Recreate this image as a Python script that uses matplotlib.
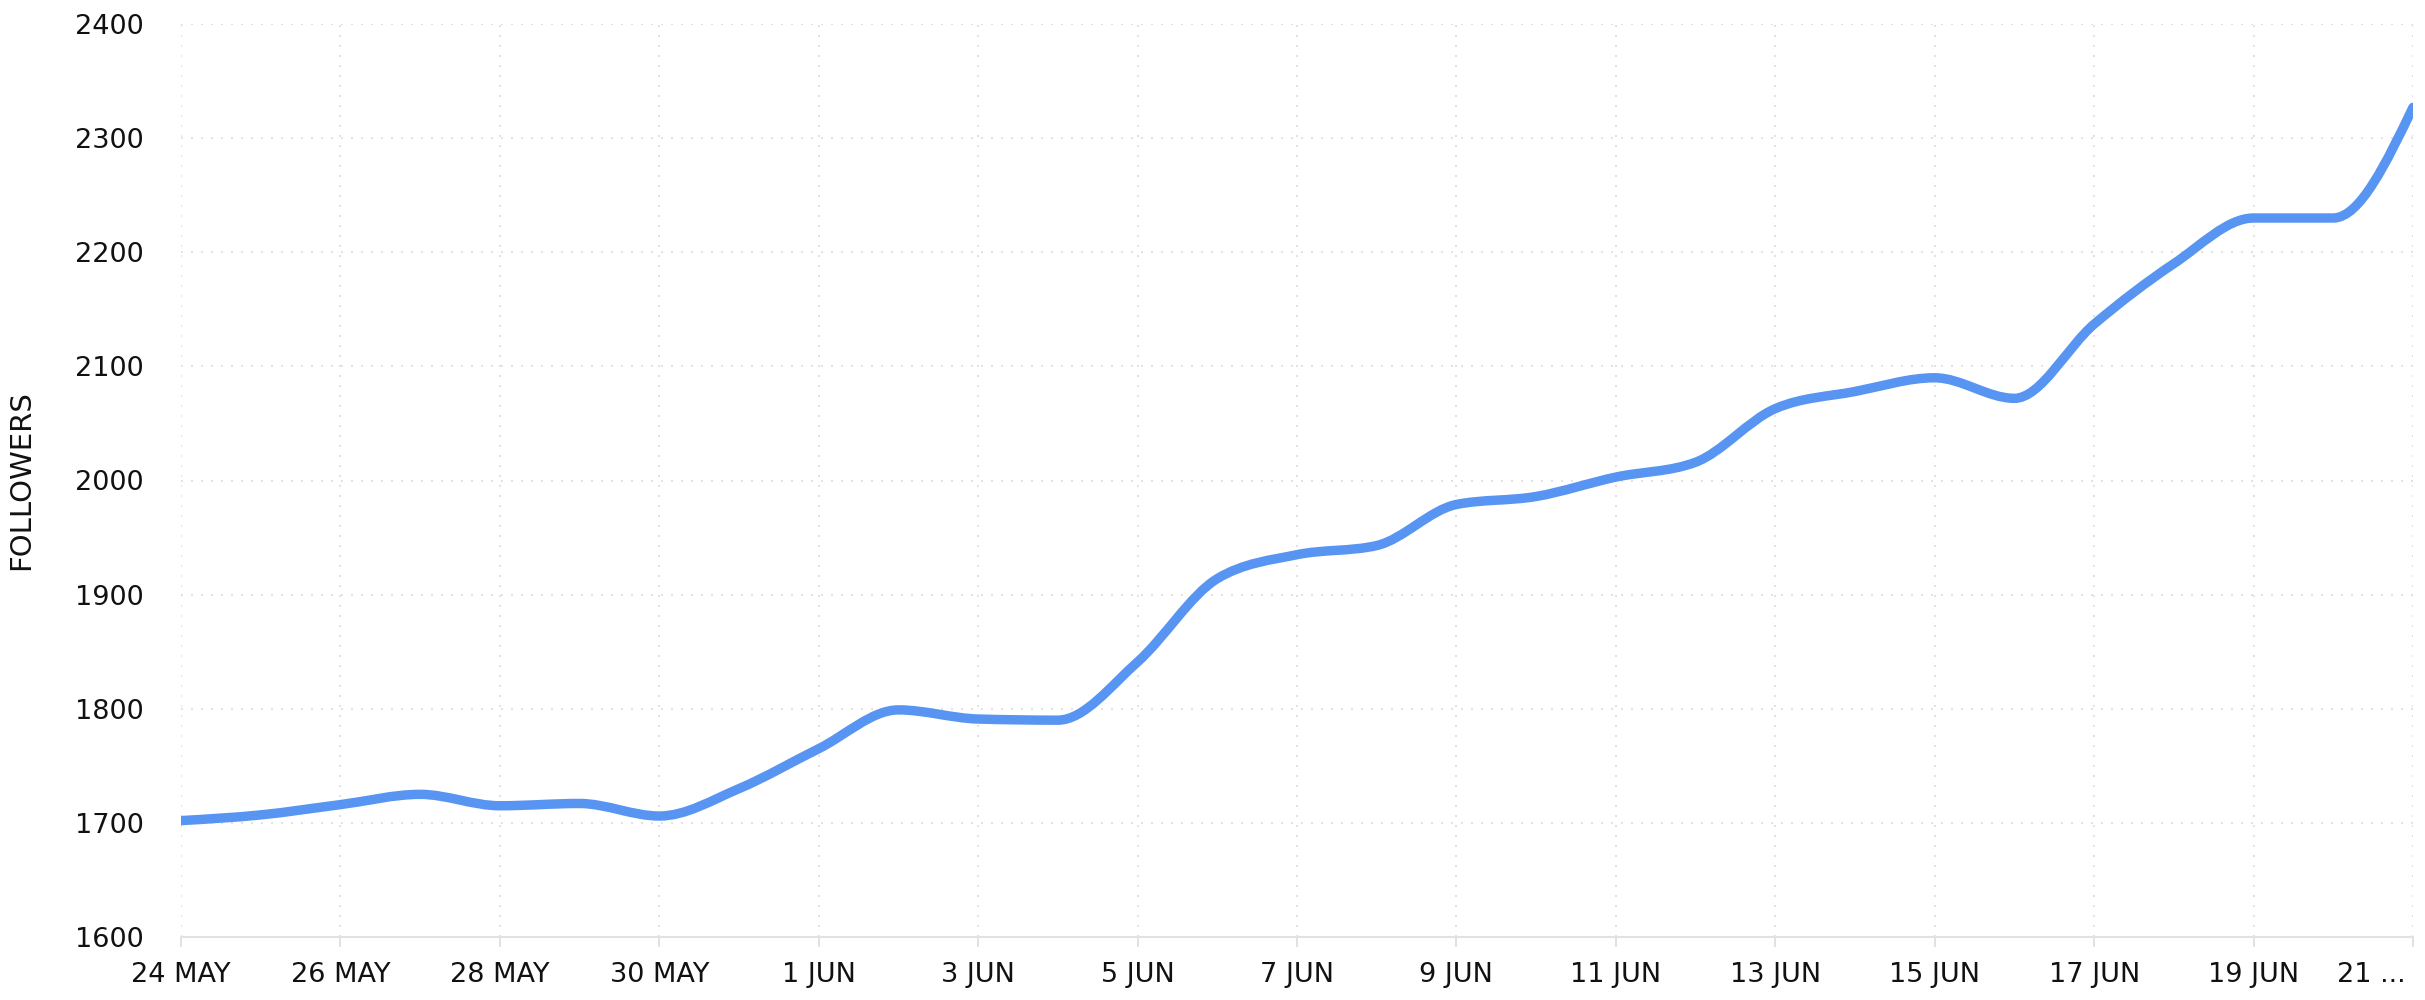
import numpy as np
import matplotlib
matplotlib.use('Agg')
import matplotlib.pyplot as plt
import matplotlib.dates as mdates
from matplotlib.path import Path
from matplotlib.patches import PathPatch
from matplotlib.transforms import ScaledTranslation

# daily follower counts, 24 May -> 21 Jun
dates = np.arange(np.datetime64('2023-05-24'), np.datetime64('2023-06-22'))
followers = [1702, 1707, 1716, 1725, 1715, 1717, 1706, 1730, 1765, 1799,
             1791, 1790, 1841, 1914, 1935, 1943, 1979, 1986, 2003, 2016,
             2063, 2078, 2090, 2072, 2137, 2190, 2230, 2230, 2327]
y_ticks = [1600, 1700, 1800, 1900, 2000, 2100, 2200, 2300, 2400]

line_color = '#5894f1'
grid_color = '#e2e2e2'
text_color = '#111111'


def monotone_path(x, y):
    # monotone cubic (d3 curveMonotoneX style) written as bezier segments
    x = np.asarray(x, float)
    y = np.asarray(y, float)
    h = np.diff(x)
    s = np.diff(y) / h
    n = len(x)
    t = np.zeros(n)
    for i in range(1, n - 1):
        p = (s[i - 1] * h[i] + s[i] * h[i - 1]) / (h[i - 1] + h[i])
        t[i] = (np.sign(s[i - 1]) + np.sign(s[i])) * min(abs(s[i - 1]), abs(s[i]), 0.5 * abs(p))
    t[0] = (3 * s[0] - t[1]) / 2
    t[-1] = (3 * s[-1] - t[-2]) / 2
    verts = [(x[0], y[0])]
    codes = [Path.MOVETO]
    for i in range(n - 1):
        d = h[i] / 3
        verts += [(x[i] + d, y[i] + d * t[i]),
                  (x[i + 1] - d, y[i + 1] - d * t[i + 1]),
                  (x[i + 1], y[i + 1])]
        codes += [Path.CURVE4] * 3
    return Path(verts, codes)


xnum = mdates.date2num(dates.astype('datetime64[D]').astype(object))

fig = plt.figure(figsize=(24.25, 10), dpi=100)
ax = fig.add_axes([181 / 2425, 63 / 1000, 2232 / 2425, 913 / 1000])

patch = PathPatch(monotone_path(xnum, followers), fill=False, edgecolor=line_color,
                  linewidth=6.8, capstyle='round', joinstyle='round', zorder=3)
ax.add_patch(patch)

ax.set_xlim(xnum[0], xnum[-1])
ax.set_ylim(1600, 2400)

tick_x = xnum[::2]
tick_labels = [f"{d.day} {d.strftime('%b').upper()}" for d in dates[::2].astype(object)]
tick_labels[-1] = tick_labels[-1].split()[0] + ' ...'
ax.set_xticks(tick_x)
ax.set_xticklabels(tick_labels)
ax.set_yticks(y_ticks)
ax.set_yticklabels([str(v) for v in y_ticks])

for side in ['top', 'right', 'left']:
    ax.spines[side].set_visible(False)
ax.spines['bottom'].set_color(grid_color)
ax.spines['bottom'].set_linewidth(1.5)

ax.grid(True, color=grid_color, linewidth=1.44, linestyle=(0, (1, 4)), zorder=0)
ax.set_axisbelow(True)

ax.tick_params(axis='x', length=7.2, width=1.44, color=grid_color, pad=11,
               labelsize=19.5, labelcolor=text_color)
ax.tick_params(axis='y', length=0, pad=27, labelsize=19.5, labelcolor=text_color)

# last date label is pulled left like the truncated original
last = ax.get_xticklabels()[-1]
last.set_transform(last.get_transform() + ScaledTranslation(-42 / 100, 0, fig.dpi_scale_trans))

ax.set_ylabel('FOLLOWERS', fontsize=21, color=text_color)
ax.yaxis.set_label_coords((35 - 181) / 2232, 0.5)

fig.savefig('out.png', dpi=100)
